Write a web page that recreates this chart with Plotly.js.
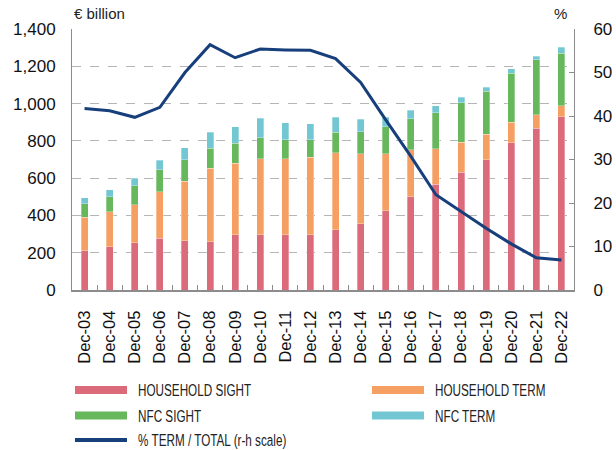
<!DOCTYPE html>
<html>
<head>
<meta charset="utf-8">
<script src="https://cdn.plot.ly/plotly-3.0.1.min.js"></script>
<style>html,body{margin:0;padding:0;background:#fff;}#chart{width:616px;height:450px;}</style>
</head>
<body>
<div id="chart"></div>
<script>
var categories = ["Dec-03","Dec-04","Dec-05","Dec-06","Dec-07","Dec-08","Dec-09","Dec-10","Dec-11","Dec-12","Dec-13","Dec-14","Dec-15","Dec-16","Dec-17","Dec-18","Dec-19","Dec-20","Dec-21","Dec-22"];
var householdSight = [211,231,254,277,265,258,297,297,297,296,324,356,426,501,567,632,700,791,868,929];
var householdTerm  = [179,190,202,249,319,395,383,408,408,416,412,376,306,251,190,161,136,108,72,59];
var nfcSight       = [74,80,103,118,114,108,106,113,101,95,109,118,143,166,195,211,229,265,295,283];
var nfcTerm        = [32,36,41,51,66,84,91,102,91,84,82,66,52,45,36,31,22,23,20,30];
var pctTermTotal   = [41.7,41.2,39.7,42.0,50.0,56.4,53.4,55.4,55.2,55.1,53.2,47.7,39.1,30.7,21.9,18.0,14.2,10.6,7.4,6.9];
var seriesNames = ["HOUSEHOLD SIGHT","HOUSEHOLD TERM","NFC SIGHT","NFC TERM","% TERM / TOTAL (r-h scale)"];
var leftTicks = [0,200,400,600,800,1000,1200,1400];
var rightTicks = [0,10,20,30,40,50,60];

var colors = ["#DB6A7B","#F5A062","#67B75C","#73C7D2","#173F7C"];
var barData = [householdSight, householdTerm, nfcSight, nfcTerm];
var traces = [];
for (var i = 0; i < 4; i++) {
  traces.push({type:"bar", x:categories, y:barData[i], name:seriesNames[i], showlegend:false,
    marker:{color:colors[i], line:{color:"rgba(255,255,255,0.6)", width:0.5}}, hoverinfo:"x+y"});
}
traces.push({type:"scatter", mode:"lines", x:categories, y:pctTermTotal, yaxis:"y2", name:seriesNames[4], showlegend:false,
  line:{color:colors[4], width:3}});

// manual legend (pixel positions converted to paper coordinates)
var L = 72, W = 502, B = 290, H = 261;
function px(x){return (x-L)/W;}
function py(y){return (B-y)/H;}
var legendPos = [[75,390],[372,390],[75,415.5],[372,415.5],[75,440]];
var shapes = [], annotations = [];
for (var j = 0; j < 5; j++) {
  var p = legendPos[j];
  if (j < 4) {
    shapes.push({type:"rect", xref:"paper", yref:"paper", x0:px(p[0]), x1:px(p[0]+52), y0:py(p[1]+4), y1:py(p[1]-4),
      fillcolor:colors[j], line:{width:0}});
  } else {
    shapes.push({type:"line", xref:"paper", yref:"paper", x0:px(p[0]), x1:px(p[0]+52), y0:py(p[1]), y1:py(p[1]),
      line:{color:colors[j], width:4}});
  }
  annotations.push({xref:"paper", yref:"paper", x:px(p[0]+61), y:py(p[1]), xanchor:"left", yanchor:"middle",
    text:seriesNames[j], showarrow:false, font:{family:"Liberation Sans, Arial, sans-serif", size:16.5, color:"#222"}});
}
annotations.push({xref:"paper", yref:"paper", x:px(72), y:py(14), xanchor:"left", yanchor:"middle", text:"€ billion",
  showarrow:false, font:{family:"Liberation Sans, Arial, sans-serif", size:15, color:"#222"}});
annotations.push({xref:"paper", yref:"paper", x:px(569), y:py(14), xanchor:"right", yanchor:"middle", text:"%",
  showarrow:false, font:{family:"Liberation Sans, Arial, sans-serif", size:15, color:"#222"}});

var layout = {
  width:616, height:450,
  margin:{l:72, r:42, t:29, b:160},
  paper_bgcolor:"#fff", plot_bgcolor:"#fff",
  barmode:"stack", bargap:0.72,
  font:{family:"Liberation Sans, Arial, sans-serif", size:17, color:"#111"},
  xaxis:{type:"category", showline:true, linecolor:"#8c8c8c", linewidth:2, ticks:"inside", tickson:"boundaries",
    ticklen:5, tickcolor:"#8c8c8c", tickangle:-90, ticklabelstandoff:12, tickfont:{size:16.5}, showgrid:false},
  yaxis:{range:[0,1400], tickvals:leftTicks, tickformat:",", showline:true, linecolor:"#8c8c8c", linewidth:1,
    showgrid:true, gridcolor:"#b5b5b5", griddash:"dash", gridwidth:1, zeroline:false, ticks:"", ticklabelstandoff:12,
    tickfont:{size:17}},
  yaxis2:{range:[0,60], tickvals:rightTicks, overlaying:"y", side:"right", showline:true, linecolor:"#8c8c8c", linewidth:1,
    showgrid:false, zeroline:false, ticks:"inside", ticklen:5, tickcolor:"#8c8c8c", ticklabelstandoff:15, tickfont:{size:17}},
  shapes:shapes, annotations:annotations, showlegend:false
};
Plotly.newPlot("chart", traces, layout, {displayModeBar:false, staticPlot:true}).then(function(gd){
  // condense the legend labels horizontally (the original uses a condensed typeface)
  var texts = gd.querySelectorAll(".annotation-text");
  for (var k = 0; k < texts.length; k++) {
    var t = texts[k];
    if (seriesNames.indexOf(t.textContent) < 0) continue;
    var bb = t.getBBox();
    var prev = t.getAttribute("transform") || "";
    t.setAttribute("transform", "translate(" + bb.x + ",0) scale(0.71,1) translate(" + (-bb.x) + ",0) " + prev);
  }
});
</script>
</body>
</html>
